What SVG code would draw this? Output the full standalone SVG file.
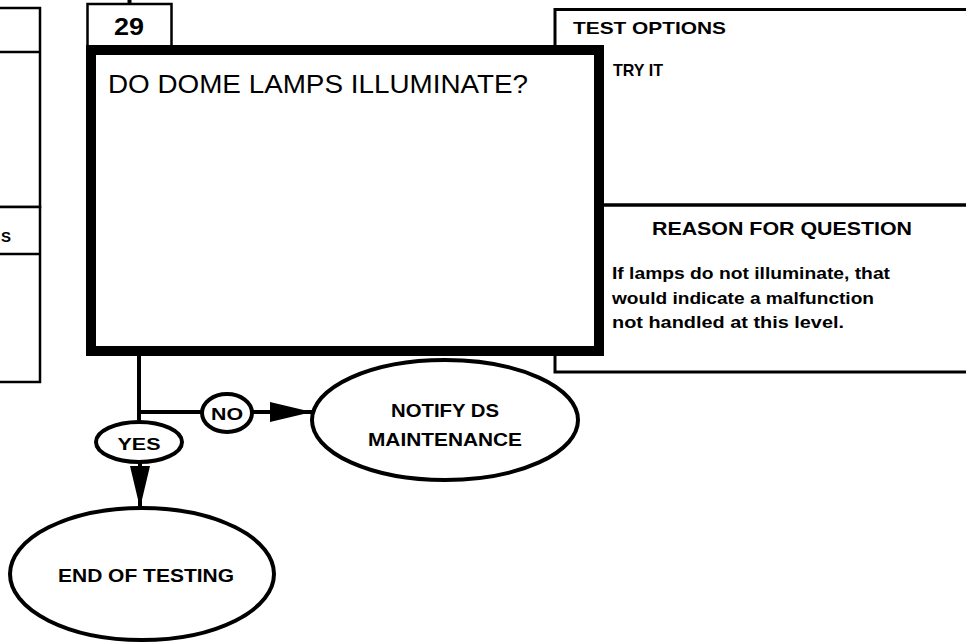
<svg xmlns="http://www.w3.org/2000/svg" width="966" height="644" viewBox="0 0 966 644">
<style>
.b{font-family:"Liberation Sans",Arial,sans-serif;font-weight:bold;fill:#000}
.n{font-family:"Liberation Sans",Arial,sans-serif;font-weight:normal;fill:#000}
.thin{fill:#fff;stroke:#000;stroke-width:2.5}
.ell{fill:#fff;stroke:#000;stroke-width:4}
.ln{fill:none;stroke:#000;stroke-width:4}
</style>
<defs>
<marker id="ah" markerUnits="userSpaceOnUse" markerWidth="44" markerHeight="22" refX="42" refY="11" orient="auto">
<path d="M0,1 L42,11 L0,21 Z" fill="#000"/>
</marker>
</defs>
<rect width="966" height="644" fill="#fff"/>

<g id="left-panel-top">
<rect class="thin" x="-10" y="8" width="50" height="199"/>
<line x1="-10" y1="52" x2="40" y2="52" stroke="#000" stroke-width="2.5"/>
</g>
<g id="left-panel-bottom">
<rect class="thin" x="-10" y="207" width="50" height="175"/>
<line x1="-10" y1="254" x2="40" y2="254" stroke="#000" stroke-width="2.5"/>
<text class="b" x="1" y="242" font-size="15">S</text>
</g>

<g id="info-panel">
<rect fill="#fff" stroke="#000" stroke-width="3" x="555" y="9.5" width="430" height="362.5"/>
<line x1="600" y1="205" x2="966" y2="205" stroke="#000" stroke-width="3.5"/>
<text class="b" x="573" y="34" font-size="17" textLength="153" lengthAdjust="spacingAndGlyphs">TEST OPTIONS</text>
<text class="b" x="613" y="76" font-size="17" textLength="50" lengthAdjust="spacingAndGlyphs">TRY IT</text>
<text class="b" x="782" y="235" font-size="19" text-anchor="middle" textLength="260" lengthAdjust="spacingAndGlyphs">REASON FOR QUESTION</text>
<text class="b" x="612" y="279" font-size="16" textLength="278" lengthAdjust="spacingAndGlyphs">If lamps do not illuminate, that</text>
<text class="b" x="612" y="304" font-size="16" textLength="262" lengthAdjust="spacingAndGlyphs">would indicate a malfunction</text>
<text class="b" x="612" y="328" font-size="16" textLength="232" lengthAdjust="spacingAndGlyphs">not handled at this level.</text>
</g>

<g id="connectors">
<line class="ln" x1="129.5" y1="0" x2="129.5" y2="4"/>
<line class="ln" x1="139" y1="354" x2="139" y2="422"/>
<line class="ln" x1="137" y1="412" x2="202" y2="412"/>
<line class="ln" x1="252" y1="412" x2="312" y2="412" marker-end="url(#ah)"/>
<line class="ln" x1="140" y1="462" x2="140" y2="508" marker-end="url(#ah)"/>
</g>

<g id="step-29">
<rect fill="#fff" stroke="#000" stroke-width="2.5" x="87.5" y="4" width="84" height="44"/>
<text class="b" x="129" y="35" font-size="24" text-anchor="middle" textLength="30" lengthAdjust="spacingAndGlyphs">29</text>
<rect fill="#fff" stroke="#000" stroke-width="10" x="91" y="50" width="508" height="301"/>
<text class="n" x="108" y="93" font-size="25" textLength="420" lengthAdjust="spacingAndGlyphs">DO DOME LAMPS ILLUMINATE?</text>
</g>

<g id="label-no">
<ellipse class="ell" cx="227" cy="413" rx="25" ry="19"/>
<text class="b" x="227" y="420" font-size="17" text-anchor="middle" textLength="32" lengthAdjust="spacingAndGlyphs">NO</text>
</g>

<g id="label-yes">
<ellipse class="ell" cx="139" cy="442" rx="43" ry="20" stroke-width="3.5"/>
<text class="b" x="139" y="450" font-size="17" text-anchor="middle" textLength="43" lengthAdjust="spacingAndGlyphs">YES</text>
</g>

<g id="notify-ds">
<ellipse class="ell" cx="445" cy="420" rx="133" ry="60" stroke-width="4.5"/>
<text class="b" x="445" y="417" font-size="18" text-anchor="middle" textLength="108" lengthAdjust="spacingAndGlyphs">NOTIFY DS</text>
<text class="b" x="445" y="446" font-size="18" text-anchor="middle" textLength="154" lengthAdjust="spacingAndGlyphs">MAINTENANCE</text>
</g>

<g id="end-of-testing">
<ellipse class="ell" cx="142" cy="574" rx="132" ry="66" stroke-width="4.5"/>
<text class="b" x="146" y="582" font-size="18" text-anchor="middle" textLength="176" lengthAdjust="spacingAndGlyphs">END OF TESTING</text>
</g>
</svg>
